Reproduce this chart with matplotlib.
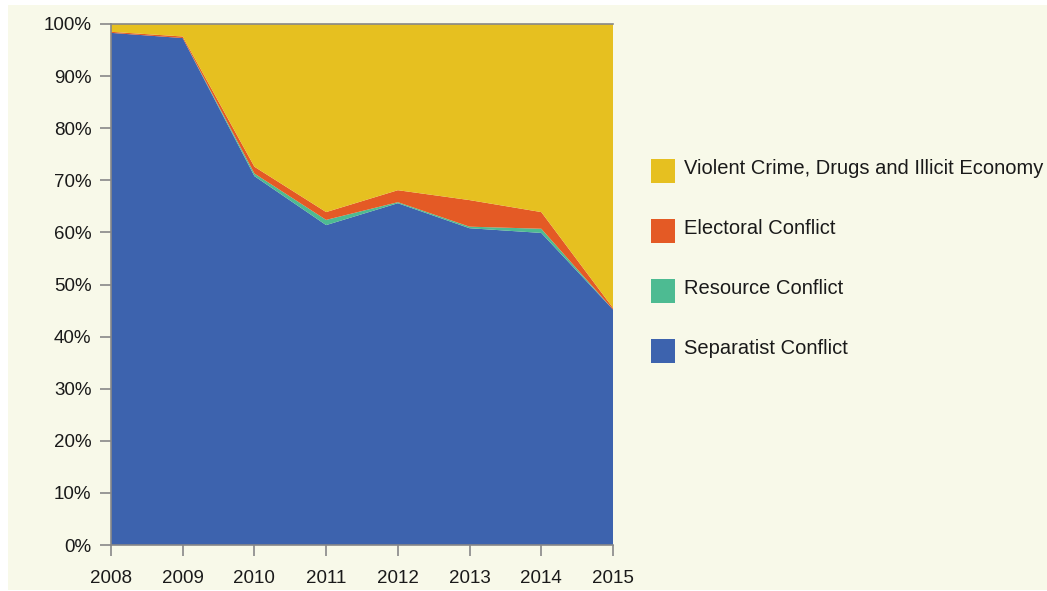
import matplotlib
matplotlib.use("Agg")
import matplotlib.pyplot as plt
from matplotlib.patches import Rectangle

years = [2008, 2009, 2010, 2011, 2012, 2013, 2014, 2015]
separatist = [98.3, 97.3, 70.8, 61.4, 65.6, 60.8, 59.9, 45.2]
resource = [0.0, 0.0, 0.5, 1.0, 0.2, 0.3, 0.8, 0.0]
electoral = [0.2, 0.3, 1.3, 1.5, 2.3, 5.1, 3.2, 0.3]
violent = [100 - s - r - e for s, r, e in zip(separatist, resource, electoral)]

labels = ["Separatist Conflict", "Resource Conflict", "Electoral Conflict",
          "Violent Crime, Drugs and Illicit Economy"]
colors = ["#3d63ae", "#4dbb92", "#e45a25", "#e6c020"]

plt.rcParams['font.family'] = ['Liberation Sans', 'DejaVu Sans']
bg = "#f8f9e9"
W, H = 1047, 591

fig = plt.figure(figsize=(10.47, 5.91), dpi=100)
fig.patch.set_facecolor("white")
fig.patches.append(Rectangle((8 / W, 1 / H), 1 - 8 / W, 585 / H,
                             transform=fig.transFigure, facecolor=bg,
                             edgecolor='none', zorder=-10))

ax = fig.add_axes([111 / W, 46 / H, 502 / W, 521 / H])
ax.set_facecolor(bg)

polys = ax.stackplot(years, separatist, resource, electoral, violent,
                     colors=colors, labels=labels, linewidth=0)

ax.set_xlim(2008, 2015)
ax.set_ylim(0, 100)
ax.set_xticks(years)
ax.set_xticklabels([str(y) for y in years])
ax.set_yticks(range(0, 101, 10))
ax.set_yticklabels([f"{v}%" for v in range(0, 101, 10)])
ax.tick_params(axis='both', direction='out', length=8, width=1.2, color='#888888',
               labelsize=13.5, labelcolor='#1a1a1a')
ax.tick_params(axis='y', pad=6)
ax.tick_params(axis='x', pad=10)
ax.spines['right'].set_visible(False)
for s in ['left', 'bottom', 'top']:
    ax.spines[s].set_color('#888888')
    ax.spines[s].set_linewidth(1.2)

# legend, drawn in the reference's order (top to bottom: reversed stack)
leg_x = 651
leg_y0 = 171
leg_dy = 60
for i, (lab, col) in enumerate(zip(labels[::-1], colors[::-1])):
    cy = leg_y0 + i * leg_dy
    fig.patches.append(Rectangle((leg_x / W, 1 - (cy + 12) / H), 24 / W, 24 / H,
                                 transform=fig.transFigure, facecolor=col,
                                 edgecolor='none'))
    fig.text(684 / W, 1 - (cy - 2) / H, lab, fontsize=14.5, color='#1a1a1a',
             va='center', ha='left')

fig.savefig("out.png", dpi=100, facecolor="white")
